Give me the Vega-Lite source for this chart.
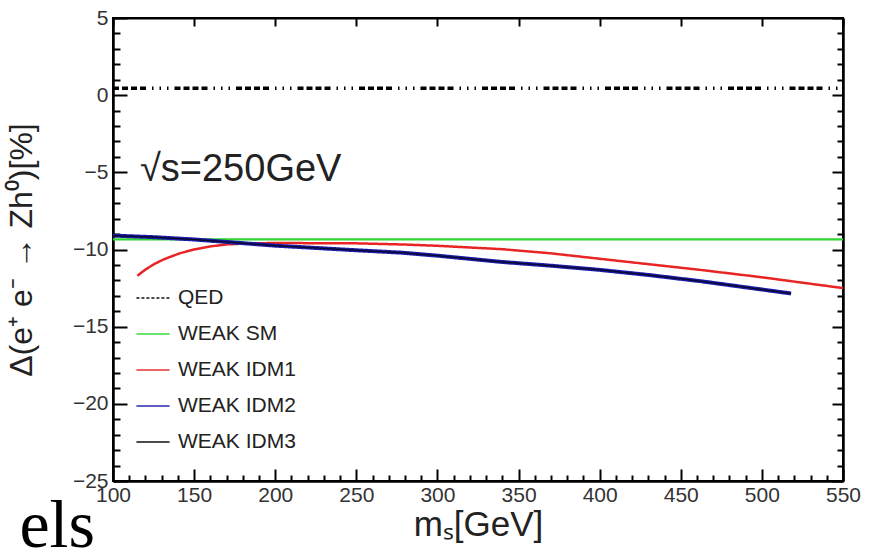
{
  "$schema": "https://vega.github.io/schema/vega-lite/v6.json",
  "width": 730,
  "height": 463,
  "autosize": {"type": "none"},
  "padding": {"left": 113, "top": 18, "right": 29, "bottom": 70},
  "background": "white",
  "title": {"text": "els", "orient": "bottom", "anchor": "start", "frame": "bounds", "font": "Liberation Serif", "fontSize": 68, "fontWeight": "normal", "color": "black", "dx": 14, "offset": -49},
  "data": {
    "values": [
      {"series": "QED", "m": 100, "v": 0.45},
      {"series": "QED", "m": 550, "v": 0.45},
      {"series": "WEAK SM", "m": 100, "v": -9.35},
      {"series": "WEAK SM", "m": 550, "v": -9.35},
      {"series": "WEAK IDM1", "m": 115, "v": -11.7},
      {"series": "WEAK IDM1", "m": 120, "v": -11.3},
      {"series": "WEAK IDM1", "m": 125, "v": -10.97},
      {"series": "WEAK IDM1", "m": 131, "v": -10.65},
      {"series": "WEAK IDM1", "m": 141, "v": -10.25},
      {"series": "WEAK IDM1", "m": 150, "v": -10.0},
      {"series": "WEAK IDM1", "m": 160, "v": -9.8},
      {"series": "WEAK IDM1", "m": 170, "v": -9.67},
      {"series": "WEAK IDM1", "m": 185, "v": -9.6},
      {"series": "WEAK IDM1", "m": 200, "v": -9.58},
      {"series": "WEAK IDM1", "m": 250, "v": -9.6},
      {"series": "WEAK IDM1", "m": 280, "v": -9.68},
      {"series": "WEAK IDM1", "m": 300, "v": -9.76},
      {"series": "WEAK IDM1", "m": 340, "v": -9.98},
      {"series": "WEAK IDM1", "m": 370, "v": -10.25},
      {"series": "WEAK IDM1", "m": 400, "v": -10.6},
      {"series": "WEAK IDM1", "m": 430, "v": -10.95},
      {"series": "WEAK IDM1", "m": 462, "v": -11.32},
      {"series": "WEAK IDM1", "m": 500, "v": -11.8},
      {"series": "WEAK IDM1", "m": 550, "v": -12.5},
      {"series": "WEAK IDM2", "m": 100, "v": -9.1},
      {"series": "WEAK IDM2", "m": 125, "v": -9.2},
      {"series": "WEAK IDM2", "m": 150, "v": -9.35},
      {"series": "WEAK IDM2", "m": 175, "v": -9.55},
      {"series": "WEAK IDM2", "m": 200, "v": -9.75},
      {"series": "WEAK IDM2", "m": 250, "v": -10.05},
      {"series": "WEAK IDM2", "m": 277, "v": -10.2},
      {"series": "WEAK IDM2", "m": 300, "v": -10.4},
      {"series": "WEAK IDM2", "m": 339, "v": -10.8},
      {"series": "WEAK IDM2", "m": 370, "v": -11.05},
      {"series": "WEAK IDM2", "m": 400, "v": -11.32},
      {"series": "WEAK IDM2", "m": 430, "v": -11.65},
      {"series": "WEAK IDM2", "m": 462, "v": -12.05},
      {"series": "WEAK IDM2", "m": 490, "v": -12.45},
      {"series": "WEAK IDM2", "m": 518, "v": -12.85},
      {"series": "WEAK IDM3", "m": 100, "v": -9.1},
      {"series": "WEAK IDM3", "m": 125, "v": -9.2},
      {"series": "WEAK IDM3", "m": 150, "v": -9.35},
      {"series": "WEAK IDM3", "m": 175, "v": -9.55},
      {"series": "WEAK IDM3", "m": 200, "v": -9.75},
      {"series": "WEAK IDM3", "m": 250, "v": -10.05},
      {"series": "WEAK IDM3", "m": 277, "v": -10.2},
      {"series": "WEAK IDM3", "m": 300, "v": -10.4},
      {"series": "WEAK IDM3", "m": 339, "v": -10.8},
      {"series": "WEAK IDM3", "m": 370, "v": -11.05},
      {"series": "WEAK IDM3", "m": 400, "v": -11.32},
      {"series": "WEAK IDM3", "m": 430, "v": -11.65},
      {"series": "WEAK IDM3", "m": 462, "v": -12.05},
      {"series": "WEAK IDM3", "m": 490, "v": -12.45},
      {"series": "WEAK IDM3", "m": 518, "v": -12.85}
    ]
  },
  "layer": [
    {
      "transform": [{"filter": "datum.series === 'QED'"}],
      "mark": {"type": "line", "strokeWidth": 3.5, "strokeDash": [6, 3, 6, 3, 6, 3, 6, 6, 1.5, 6, 1.5, 6, 1.5, 6]},
      "encoding": {
        "x": {"field": "m", "type": "quantitative", "scale": {"domain": [100, 550], "nice": false, "zero": false},
          "axis": {"orient": "bottom", "title": "mₛ[GeV]",
            "values": [100, 150, 200, 250, 300, 350, 400, 450, 500, 550],
            "tickSize": -12, "labelPadding": 15, "labelFlush": false, "labelOverlap": false,
            "titlePadding": 2, "titleFontSize": 35}},
        "y": {"field": "v", "type": "quantitative", "scale": {"domain": [-25, 5], "nice": false, "zero": false},
          "axis": {"orient": "left", "title": "Δ(e⁺ e⁻   →   Zh⁰)[%]",
            "values": [-25, -20, -15, -10, -5, 0, 5],
            "tickSize": -14, "labelPadding": 19, "labelFlush": false, "labelOverlap": false,
            "titlePadding": 34, "titleFontSize": 32}},
        "color": {"field": "series", "type": "nominal", "title": null,
          "scale": {"domain": ["QED", "WEAK SM", "WEAK IDM1", "WEAK IDM2", "WEAK IDM3"], "range": ["black", "#2fd62f", "#e82424", "#1c1ca8", "black"]}}
      }
    },
    {
      "transform": [{"filter": "datum.series === 'WEAK SM'"}],
      "mark": {"type": "line", "strokeWidth": 2.2},
      "encoding": {
        "x": {"field": "m", "type": "quantitative",
          "axis": {"orient": "top", "title": null, "labels": false,
            "values": [100, 150, 200, 250, 300, 350, 400, 450, 500, 550], "tickSize": -8}},
        "y": {"field": "v", "type": "quantitative",
          "axis": {"orient": "right", "title": null, "labels": false,
            "values": [-25, -20, -15, -10, -5, 0, 5], "tickSize": -11}},
        "color": {"field": "series", "type": "nominal", "title": null},
        "strokeDash": {"field": "series", "type": "nominal", "title": null,
          "scale": {"domain": ["QED", "WEAK SM", "WEAK IDM1", "WEAK IDM2", "WEAK IDM3"], "range": [[3, 2], [1, 0], [1, 0], [1, 0], [1, 0]]}}
      }
    },
    {
      "transform": [{"filter": "datum.series === 'WEAK IDM1'"}],
      "mark": {"type": "line", "strokeWidth": 2.5},
      "encoding": {
        "x": {"field": "m", "type": "quantitative",
          "axis": {"orient": "bottom", "title": null, "labels": false,
            "values": [110, 120, 130, 140, 160, 170, 180, 190, 210, 220, 230, 240, 260, 270, 280, 290, 310, 320, 330, 340, 360, 370, 380, 390, 410, 420, 430, 440, 460, 470, 480, 490, 510, 520, 530, 540],
            "tickSize": -6}},
        "y": {"field": "v", "type": "quantitative",
          "axis": {"orient": "left", "title": null, "labels": false,
            "values": [-24, -23, -22, -21, -19, -18, -17, -16, -14, -13, -12, -11, -9, -8, -7, -6, -4, -3, -2, -1, 1, 2, 3, 4],
            "tickSize": -7}},
        "color": {"field": "series", "type": "nominal", "title": null},
        "strokeDash": {"field": "series", "type": "nominal", "title": null}
      }
    },
    {
      "transform": [{"filter": "datum.series === 'WEAK IDM2'"}],
      "mark": {"type": "line", "strokeWidth": 4},
      "encoding": {
        "x": {"field": "m", "type": "quantitative", "axis": null},
        "y": {"field": "v", "type": "quantitative",
          "axis": {"orient": "right", "title": null, "labels": false,
            "values": [-24, -23, -22, -21, -19, -18, -17, -16, -14, -13, -12, -11, -9, -8, -7, -6, -4, -3, -2, -1, 1, 2, 3, 4],
            "tickSize": -6}},
        "color": {"field": "series", "type": "nominal", "title": null},
        "strokeDash": {"field": "series", "type": "nominal", "title": null}
      }
    },
    {
      "transform": [{"filter": "datum.series === 'WEAK IDM3'"}],
      "mark": {"type": "line", "strokeWidth": 1.5, "opacity": 0.7},
      "encoding": {
        "x": {"field": "m", "type": "quantitative", "axis": null},
        "y": {"field": "v", "type": "quantitative", "axis": null},
        "color": {"field": "series", "type": "nominal", "title": null},
        "strokeDash": {"field": "series", "type": "nominal", "title": null}
      }
    },
    {
      "data": {"values": [{"m": 116.6, "v": -4.85, "label": "√s=250GeV"}]},
      "mark": {"type": "text", "align": "left", "baseline": "middle", "font": "Liberation Sans", "fontSize": 38, "color": "#222"},
      "encoding": {
        "x": {"field": "m", "type": "quantitative", "axis": null},
        "y": {"field": "v", "type": "quantitative", "axis": null},
        "text": {"field": "label"}
      }
    }
  ],
  "resolve": {"axis": {"x": "independent", "y": "independent"}},
  "config": {
    "view": {"stroke": "black", "strokeWidth": 2},
    "axis": {
      "domainColor": "black", "domainWidth": 2,
      "tickColor": "black", "tickWidth": 2,
      "grid": false,
      "labelFont": "Liberation Sans", "labelFontSize": 21, "labelColor": "#333",
      "titleFont": "Liberation Sans", "titleFontSize": 28, "titleFontWeight": "normal", "titleColor": "#222"
    },
    "legend": {
      "orient": "none", "legendX": 22, "legendY": 262,
      "symbolType": "stroke", "symbolSize": 1100, "symbolStrokeWidth": 2,
      "labelFont": "Liberation Sans", "labelFontSize": 21, "labelColor": "#222",
      "rowPadding": 8, "labelOffset": 7
    }
  }
}
